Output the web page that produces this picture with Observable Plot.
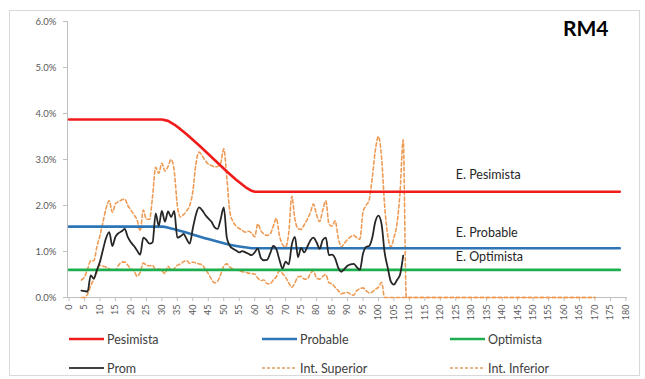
<!DOCTYPE html>
<html><head><meta charset="utf-8">
<script src="https://cdn.jsdelivr.net/npm/d3@7"></script>
<script src="https://cdn.jsdelivr.net/npm/@observablehq/plot@0.6"></script>
<style>
body{margin:0;background:#fff;font-family:Lato,"Open Sans",sans-serif}
#wrap{position:relative;width:645px;height:379px;overflow:hidden;background:#fff}
#border{position:absolute;left:9px;top:10px;width:631px;height:366px;border:1px solid #d9d9d9;box-sizing:border-box}
#chart{position:absolute;left:0;top:0}
#title{position:absolute;left:563px;top:15px;font:700 21px Lato,sans-serif;color:#000}
.lg{position:absolute;height:14px;display:flex;align-items:center;font-size:12.5px;color:#404040;white-space:nowrap}
.lg svg{margin-right:3px}
</style></head><body>
<div id="wrap"><div id="border"></div><div id="chart"></div><div id="title">RM4</div><div id="legend"></div></div>
<script>
// ---- data ----
const xTicks = [0,5,10,15,20,25,30,35,40,45,50,55,60,65,70,75,80,85,90,95,100,105,110,115,120,125,130,135,140,145,150,155,160,165,170,175,180];
const yTicks = [0,1,2,3,4,5,6];

const pesCats = [0,30,32,34,36,38,40,42,45,48,51,54,57,59,60,178];
const pesVals = [3.87,3.87,3.84,3.76,3.66,3.55,3.43,3.31,3.12,2.93,2.74,2.56,2.40,2.32,2.30,2.30];

const probCats = [0,30,33,37,41,45,50,54,58,60,178];
const probVals = [1.54,1.54,1.50,1.43,1.35,1.27,1.18,1.12,1.08,1.07,1.07];

const optCats = [0,178];
const optVals = [0.6,0.6];

const promStart = 4;
const prom = [0.15,0.14,0.13,0.48,0.41,0.6,0.78,1.05,1.3,1.42,
1.12,1.32,1.4,1.44,1.49,1.31,1.2,1.12,1.02,0.93,
1.3,1.25,1.17,1.2,1.83,1.56,1.88,1.65,1.87,1.75,
1.88,1.3,1.33,1.38,1.27,1.17,1.5,1.8,1.96,1.9,
1.8,1.72,1.65,1.53,1.49,1.7,1.96,1.3,1.12,1.06,
1.02,0.98,1.01,0.98,0.95,0.92,0.98,1.07,0.86,0.81,
0.82,0.96,1.12,1.05,0.82,0.63,0.78,0.72,1.15,1.32,
0.88,1.08,0.98,1.1,1.24,1.3,1.2,1.06,1.25,1.3,
0.92,0.93,0.85,0.65,0.56,0.62,0.69,0.72,0.73,0.66,
0.6,0.95,1.1,1.12,1.3,1.65,1.78,1.6,0.98,0.65,
0.35,0.28,0.38,0.5,0.91];

const supStart = 4;
const sup = [0.38,0.45,0.62,0.8,0.8,1.1,1.35,1.65,1.95,2.1,
1.85,2.04,2.08,2.12,2.14,2.0,1.9,1.8,1.68,1.45,
1.9,1.7,1.7,2.2,2.83,2.7,2.92,2.75,2.85,3.0,
2.75,2.0,1.75,1.8,1.88,2.0,2.3,2.9,3.16,3.08,
2.98,2.9,2.87,2.84,2.85,2.92,3.23,2.6,1.85,1.65,
1.55,1.5,1.46,1.42,1.44,1.4,1.32,1.6,1.45,1.38,
1.35,1.38,1.55,1.72,1.35,1.15,1.1,1.4,2.2,1.7,
1.5,1.48,1.58,1.7,1.85,2.03,1.8,1.65,1.9,2.1,
1.6,1.55,1.67,1.3,1.1,1.18,1.26,1.32,1.35,1.3,
1.27,1.85,2.0,2.12,2.6,3.2,3.5,3.05,2.0,1.35,
1.1,1.3,1.6,2.3,3.43,0];

const infStart = 4;
const inf = [0,0,0.08,0.25,0.4,0.55,0.7,0.68,0.66,0.62,
0.6,0.6,0.7,0.77,0.77,0.7,0.62,0.58,0.46,0.55,
0.75,0.7,0.69,0.7,0.6,0.62,0.58,0.52,0.68,0.6,
0.63,0.7,0.73,0.78,0.8,0.74,0.77,0.75,0.73,0.71,
0.62,0.52,0.4,0.32,0.35,0.5,0.68,0.73,0.66,0.62,
0.6,0.58,0.56,0.55,0.53,0.52,0.51,0.42,0.37,0.38,
0.3,0.3,0.38,0.45,0.58,0.52,0.44,0.32,0.22,0.32,
0.45,0.46,0.4,0.4,0.52,0.58,0.42,0.4,0.46,0.5,
0.32,0.3,0.22,0.15,0.08,0.1,0.11,0.07,0.05,0.15,
0.19,0.21,0.15,0.1,0.12,0.18,0.22,0.33,0];
const intTailEnd = 170;

const annotations = [
  {text:"E. Pesimista", x:125, y:2.66},
  {text:"E. Probable", x:125, y:1.40},
  {text:"E. Optimista", x:125, y:0.88}
];

const colors = {pes:"#f01c1c", prob:"#2e75b6", opt:"#1fae4f", prom:"#262626", int:"#ee9b55"};
const legendItems = [
  {name:"Pesimista", color:colors.pes, dash:null, w:2.5},
  {name:"Probable", color:colors.prob, dash:null, w:2.5},
  {name:"Optimista", color:colors.opt, dash:null, w:2.5},
  {name:"Prom", color:"#404040", dash:null, w:2},
  {name:"Int. Superior", color:"#e0a060", dash:"3,2", w:1.5},
  {name:"Int. Inferior", color:"#e0a060", dash:"3,2", w:1.5}
];

// ---- build tables ----
const zip = (cs, vs) => cs.map((c,i)=>({x:c, y:vs[i]}));
const fromStart = (s, vs) => vs.map((v,i)=>({x:s+i, y:v}));
const pesData = zip(pesCats, pesVals);
const probData = zip(probCats, probVals);
const optData = zip(optCats, optVals);
const promData = fromStart(promStart, prom);
const supData = fromStart(supStart, sup).concat([{x:intTailEnd, y:0}]);
const infData = fromStart(infStart, inf).concat([{x:intTailEnd, y:0}]);

const font = "Lato, 'Open Sans', sans-serif";
const chart = Plot.plot({
  width: 645, height: 330,
  marginTop: 21, marginBottom: 33, marginLeft: 67, marginRight: 18,
  x: {domain: [-0.5, 180.5]},
  y: {domain: [0, 6]},
  style: {fontFamily: font, background: "transparent", overflow: "visible"},
  marks: [
    Plot.axisY({ticks: yTicks, tickFormat: d => d.toFixed(1) + "%", tickSize: 4, tickPadding: 7, stroke: "#bfbfbf", color: "#595959", fontSize: 9.5, label: null}),
    Plot.axisX({ticks: xTicks, tickFormat: d => String(d), tickSize: 4, tickPadding: 3, tickRotate: -90, stroke: "#bfbfbf", color: "#595959", fontSize: 9, label: null}),
    Plot.ruleX([-0.5], {stroke: "#bfbfbf"}),
    Plot.ruleY([0], {stroke: "#bfbfbf"}),
    Plot.line(supData, {x: "x", y: "y", stroke: colors.int, strokeWidth: 1.6, strokeDasharray: "3.5,2.5", curve: "monotone-x"}),
    Plot.line(infData, {x: "x", y: "y", stroke: colors.int, strokeWidth: 1.6, strokeDasharray: "3.5,2.5", curve: "monotone-x"}),
    Plot.line(optData, {x: "x", y: "y", stroke: colors.opt, strokeWidth: 2.6}),
    Plot.line(probData, {x: "x", y: "y", stroke: colors.prob, strokeWidth: 2.6, curve: "monotone-x"}),
    Plot.line(pesData, {x: "x", y: "y", stroke: colors.pes, strokeWidth: 2.6}),
    Plot.line(promData, {x: "x", y: "y", stroke: colors.prom, strokeWidth: 1.8, curve: "monotone-x"}),
    Plot.text(annotations, {x: "x", y: "y", text: "text", textAnchor: "start", fontSize: 12.5, fill: "#262626"})
  ]
});
document.getElementById("chart").appendChild(chart);

// ---- legend ----
const colX = [69, 262, 450];
const rowY = [332, 361];
const lg = document.getElementById("legend");
legendItems.forEach((it, i) => {
  const d = document.createElement("div");
  d.className = "lg";
  d.style.left = colX[i % 3] + "px";
  d.style.top = rowY[Math.floor(i / 3)] + "px";
  d.innerHTML = `<svg width="35" height="6"><line x1="0" x2="35" y1="3" y2="3" stroke="${it.color}" stroke-width="${it.w}" ${it.dash ? `stroke-dasharray="${it.dash}"` : ""}/></svg><span>${it.name}</span>`;
  lg.appendChild(d);
});
</script></body></html>
